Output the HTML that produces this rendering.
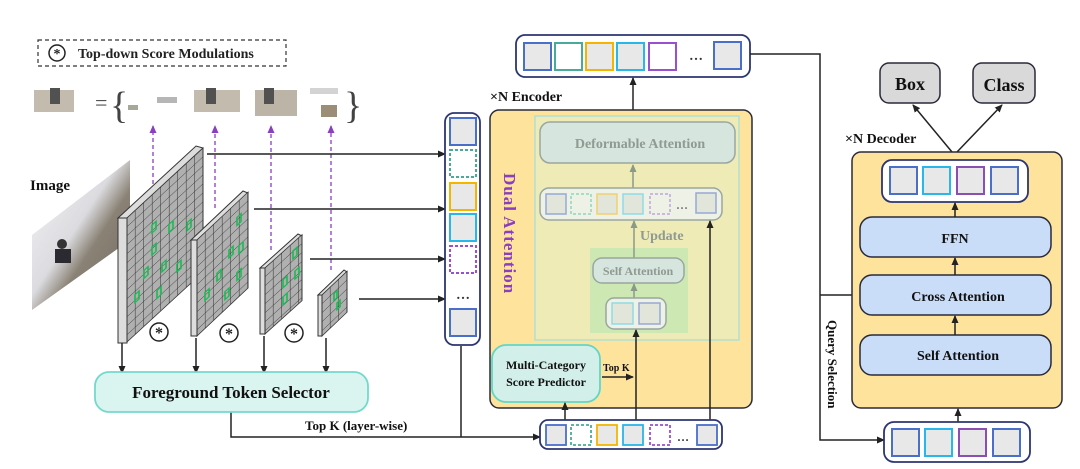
<!DOCTYPE html>
<html><head><meta charset="utf-8"><style>
html,body{margin:0;padding:0;background:#fff;}
svg{display:block;font-family:"Liberation Serif",serif;font-weight:bold;}
</style></head><body>
<svg width="1080" height="469" viewBox="0 0 1080 469" xmlns="http://www.w3.org/2000/svg">
<defs>
<marker id="ah" markerWidth="8" markerHeight="8" refX="7" refY="4" orient="auto" markerUnits="userSpaceOnUse"><path d="M0,0.5 L8,4 L0,7.5 Z" fill="#222"/></marker>
<marker id="ahg" markerWidth="8" markerHeight="8" refX="7" refY="4" orient="auto" markerUnits="userSpaceOnUse"><path d="M0,0.5 L8,4 L0,7.5 Z" fill="#8a9a8a"/></marker>
<marker id="ahp" markerWidth="8" markerHeight="8" refX="7" refY="4" orient="auto" markerUnits="userSpaceOnUse"><path d="M0,0.5 L8,4 L0,7.5 Z" fill="#8a3fc0"/></marker>
<pattern id="grid" width="8.5" height="9" patternUnits="userSpaceOnUse"><rect width="8.5" height="9" fill="#b0b0b0"/><path d="M8.5,0 V9 M0,9 H8.5" stroke="#333" stroke-width="1" fill="none"/></pattern>
<linearGradient id="photo" x1="0" y1="0" x2="1" y2="1"><stop offset="0" stop-color="#f4f4f6"/><stop offset="0.45" stop-color="#dcdce0"/><stop offset="0.6" stop-color="#8a8275"/><stop offset="1" stop-color="#6f6a60"/></linearGradient>
</defs>

<!-- legend -->
<rect x="38" y="40" width="248" height="26" fill="none" stroke="#333" stroke-width="1.2" stroke-dasharray="4,3"/>
<circle cx="57" cy="53" r="8" fill="#fff" stroke="#222" stroke-width="1.5"/>
<text x="57" y="58" font-size="14" text-anchor="middle" fill="#222">*</text>
<text x="78" y="58" font-size="14" fill="#222">Top-down Score Modulations</text>

<!-- thumbnails -->
<g opacity="0.85">
<rect x="34" y="90" width="40" height="22" fill="#b8b0a0"/><rect x="50" y="88" width="10" height="16" fill="#333"/>
<text x="95" y="110" font-size="22" font-weight="normal" fill="#333">=</text>
<text x="110" y="118" font-size="38" font-weight="normal" fill="#222">{</text>
<rect x="128" y="105" width="10" height="5" fill="#998"/><rect x="157" y="97" width="20" height="6" fill="#aaa"/>
<rect x="194" y="90" width="46" height="22" fill="#b8b0a0"/><rect x="206" y="88" width="10" height="16" fill="#333"/>
<rect x="255" y="90" width="42" height="26" fill="#b0a898"/><rect x="264" y="88" width="10" height="16" fill="#333"/>
<rect x="310" y="88" width="28" height="6" fill="#ccc"/><rect x="321" y="105" width="16" height="12" fill="#8a7a60"/>
<text x="344" y="118" font-size="38" font-weight="normal" fill="#222">}</text>
</g>

<!-- purple dashed arrows -->
<g stroke="#8a3fc0" stroke-width="1.3" stroke-dasharray="4,3" marker-end="url(#ahp)">
<line x1="153" y1="205" x2="153" y2="126"/><line x1="215" y1="208" x2="215" y2="126"/>
<line x1="271" y1="250" x2="271" y2="126"/><line x1="331" y1="270" x2="331" y2="126"/>
</g>

<!-- image -->
<text x="30" y="190" font-size="15" fill="#111">Image</text>
<polygon points="32,235 130,160 130,240 32,310" fill="url(#photo)"/>
<circle cx="62" cy="244" r="5" fill="#333"/><rect x="55" y="249" width="16" height="14" fill="#2a2a30"/>

<!-- feature maps -->
<g stroke="#333" stroke-width="1">
<polygon points="118,218 127,218 203,148 196,146" fill="#ddd"/>
<g transform="translate(127,218) matrix(1,-0.92,0,1,0,0)"><rect width="76" height="124" fill="url(#grid)" stroke="#333"/>
<g fill="none" stroke="#1db954" stroke-width="1.6"><rect x="25" y="30" width="4" height="8"/><rect x="42" y="45" width="4" height="8"/><rect x="25" y="52" width="4" height="8"/><rect x="17" y="68" width="4" height="8"/><rect x="8" y="84" width="4" height="8"/><rect x="35" y="78" width="4" height="8"/><rect x="60" y="60" width="4" height="8"/><rect x="50" y="92" width="4" height="8"/><rect x="30" y="100" width="4" height="8"/></g></g>
<rect x="118" y="218" width="9" height="125" fill="#ddd"/>

<polygon points="191,240 197,240 248,193 243,191" fill="#ddd"/>
<g transform="translate(197,240) matrix(1,-0.94,0,1,0,0)"><rect width="51" height="96" fill="url(#grid)" stroke="#333"/>
<g fill="none" stroke="#1db954" stroke-width="1.6"><rect x="40" y="15" width="4" height="8"/><rect x="32" y="40" width="4" height="8"/><rect x="42" y="45" width="4" height="8"/><rect x="20" y="52" width="4" height="8"/><rect x="8" y="60" width="4" height="8"/><rect x="40" y="70" width="4" height="8"/><rect x="28" y="78" width="4" height="8"/></g></g>
<rect x="191" y="240" width="6" height="96" fill="#ddd"/>

<polygon points="260,268 265,268 302,236 298,234" fill="#ddd"/>
<g transform="translate(265,268) matrix(1,-0.9,0,1,0,0)"><rect width="37" height="66" fill="url(#grid)" stroke="#333"/>
<g fill="none" stroke="#1db954" stroke-width="1.6"><rect x="28" y="8" width="4" height="8"/><rect x="18" y="28" width="4" height="8"/><rect x="30" y="30" width="4" height="8"/><rect x="18" y="45" width="4" height="8"/></g></g>
<rect x="260" y="268" width="5" height="66" fill="#ddd"/>

<polygon points="318,295 322,295 347,272 344,270" fill="#ddd"/>
<g transform="translate(322,295) matrix(1,-0.95,0,1,0,0)"><rect width="25" height="41" fill="url(#grid)" stroke="#333"/>
<g fill="none" stroke="#1db954" stroke-width="1.6"><rect x="12" y="10" width="3" height="7"/><rect x="15" y="22" width="3" height="7"/></g></g>
<rect x="318" y="295" width="4" height="41" fill="#ddd"/>
</g>
<g font-size="16" text-anchor="middle" fill="#222">
<circle cx="159" cy="332" r="9" fill="#fff" stroke="#222" stroke-width="1.5"/><text x="159" y="338">*</text>
<circle cx="229" cy="333" r="9" fill="#fff" stroke="#222" stroke-width="1.5"/><text x="229" y="339">*</text>
<circle cx="294" cy="333" r="9" fill="#fff" stroke="#222" stroke-width="1.5"/><text x="294" y="339">*</text>
</g>

<!-- arrows to column -->
<g stroke="#222" stroke-width="1.5" fill="none" marker-end="url(#ah)">
<line x1="207" y1="154" x2="445" y2="154"/><line x1="254" y1="209" x2="445" y2="209"/>
<line x1="310" y1="259" x2="445" y2="259"/><line x1="359" y1="299" x2="445" y2="299"/>
<line x1="122" y1="343" x2="122" y2="373"/><line x1="196" y1="338" x2="196" y2="373"/>
<line x1="264" y1="336" x2="264" y2="373"/><line x1="326" y1="338" x2="326" y2="373"/>
<path d="M231,412 V437 H540"/>
</g>
<line x1="461" y1="346" x2="461" y2="437" stroke="#222" stroke-width="1.5"/>

<!-- foreground token selector -->
<rect x="95" y="372" width="273" height="40" rx="14" fill="#daf4f0" stroke="#73d9cc" stroke-width="1.8"/>
<text x="231" y="398" font-size="17" text-anchor="middle" fill="#111">Foreground Token Selector</text>
<text x="305" y="430" font-size="13" fill="#111">Top K (layer-wise)</text>

<!-- column tokens -->
<rect x="445" y="113" width="35" height="232" rx="9" fill="#fff" stroke="#2c3570" stroke-width="1.8"/>
<g stroke-width="2">
<rect x="450" y="118" width="26" height="27" fill="#e8e8e8" stroke="#4a6fc9"/>
<rect x="450" y="150" width="26" height="27" fill="#fff" stroke="#4aaa99" stroke-dasharray="3,2"/>
<rect x="450" y="183" width="26" height="27" fill="#e8e8e8" stroke="#f4b400"/>
<rect x="450" y="214" width="26" height="27" fill="#e8e8e8" stroke="#29b6e8"/>
<rect x="450" y="246" width="26" height="27" fill="#fff" stroke="#9a4fd0" stroke-dasharray="3,2"/>
<rect x="450" y="309" width="26" height="27" fill="#e8e8e8" stroke="#4a6fc9"/>
</g>
<text x="463" y="299" font-size="14" text-anchor="middle" fill="#333">…</text>

<!-- encoder output bar -->
<rect x="516" y="35" width="234" height="42" rx="9" fill="#fff" stroke="#2c3570" stroke-width="1.8"/>
<g stroke-width="2">
<rect x="524" y="43" width="27" height="27" fill="#e8e8e8" stroke="#4a6fc9"/>
<rect x="555" y="43" width="27" height="27" fill="#fff" stroke="#4aaa99"/>
<rect x="586" y="43" width="27" height="27" fill="#e8e8e8" stroke="#f4b400"/>
<rect x="617" y="43" width="27" height="27" fill="#e8e8e8" stroke="#29b6e8"/>
<rect x="649" y="43" width="27" height="27" fill="#fff" stroke="#9a4fd0"/>
<rect x="714" y="42" width="27" height="27" fill="#e8e8e8" stroke="#4a6fc9"/>
</g>
<text x="696" y="60" font-size="14" text-anchor="middle" fill="#333">…</text>
<path d="M750,54 H820 V440 H884" stroke="#222" stroke-width="1.5" fill="none" marker-end="url(#ah)"/>
<line x1="820" y1="295" x2="860" y2="295" stroke="#222" stroke-width="1.5" marker-end="url(#ah)"/>

<!-- encoder -->
<text x="490" y="101" font-size="14" fill="#111">×N Encoder</text>
<line x1="633" y1="110" x2="633" y2="78" stroke="#222" stroke-width="1.5" marker-end="url(#ah)"/>
<rect x="490" y="110" width="262" height="298" rx="9" fill="#fde39c" stroke="#2a2a3a" stroke-width="1.5"/>
<rect x="535" y="116" width="204" height="224" fill="#eeebb6" stroke="#9ee0e0" stroke-width="1.2"/>
<rect x="540" y="122" width="195" height="41" rx="10" fill="#d6e5de" stroke="#9aa6a0" stroke-width="1.5"/>
<text x="640" y="148" font-size="14" text-anchor="middle" fill="#8f9a92">Deformable Attention</text>
<line x1="633" y1="188" x2="633" y2="165" stroke="#8a9a8a" stroke-width="1.5" marker-end="url(#ahg)"/>
<rect x="540" y="188" width="182" height="32" rx="9" fill="#eef2e6" stroke="#9aa6a0" stroke-width="1.5"/>
<g stroke-width="1.5">
<rect x="546" y="194" width="20" height="20" fill="#e2e6da" stroke="#97a8d6"/>
<rect x="571" y="194" width="20" height="20" fill="none" stroke="#8fd6bb" stroke-dasharray="3,2"/>
<rect x="597" y="194" width="20" height="20" fill="#e2e6da" stroke="#f0d070"/>
<rect x="623" y="194" width="20" height="20" fill="#e2e6da" stroke="#8fdbe6"/>
<rect x="650" y="194" width="20" height="20" fill="none" stroke="#bda6d8" stroke-dasharray="3,2"/>
<rect x="696" y="193" width="20" height="20" fill="#e2e6da" stroke="#97a8d6"/>
</g>
<text x="682" y="209" font-size="12" text-anchor="middle" fill="#777">…</text>
<rect x="590" y="248" width="98" height="85" fill="#cde8b2"/>
<line x1="634" y1="258" x2="634" y2="221" stroke="#8a9a8a" stroke-width="1.5" marker-end="url(#ahg)"/>
<text x="640" y="240" font-size="14" fill="#8f9a92">Update</text>
<rect x="593" y="258" width="91" height="25" rx="9" fill="#d6e5de" stroke="#9aa6a0" stroke-width="1.5"/>
<text x="638" y="275" font-size="12" text-anchor="middle" fill="#8f9a92">Self Attention</text>
<line x1="634" y1="298" x2="634" y2="284" stroke="#8a9a8a" stroke-width="1.5" marker-end="url(#ahg)"/>
<rect x="606" y="298" width="60" height="31" rx="8" fill="#eef2e6" stroke="#9aa6a0" stroke-width="1.5"/>
<rect x="612" y="303" width="21" height="21" fill="#e2e6da" stroke="#8fdbe6" stroke-width="1.5"/>
<rect x="639" y="303" width="21" height="21" fill="#e2e6da" stroke="#97a8d6" stroke-width="1.5"/>
<text transform="translate(504,173) rotate(90)" font-size="17" fill="#8a3fc0" letter-spacing="1">Dual  Attention</text>
<rect x="492" y="345" width="108" height="57" rx="14" fill="#d2efea" stroke="#62d6c6" stroke-width="1.8"/>
<text x="546" y="369" font-size="12" text-anchor="middle" fill="#111">Multi-Category</text>
<text x="546" y="386" font-size="12" text-anchor="middle" fill="#111">Score Predictor</text>
<text x="603" y="371" font-size="10" fill="#111">Top K</text>
<line x1="602" y1="377" x2="633" y2="377" stroke="#222" stroke-width="1.5" marker-end="url(#ah)"/>
<g stroke="#222" stroke-width="1.5" marker-end="url(#ah)">
<line x1="565" y1="420" x2="565" y2="403"/>
<line x1="636" y1="420" x2="636" y2="330"/>
<line x1="710" y1="420" x2="710" y2="221"/>
</g>

<!-- bottom bar -->
<rect x="540" y="420" width="182" height="29" rx="8" fill="#fff" stroke="#2c3570" stroke-width="1.8"/>
<g stroke-width="1.8">
<rect x="546" y="425" width="20" height="20" fill="#e8e8e8" stroke="#4a6fc9"/>
<rect x="571" y="425" width="20" height="20" fill="#fff" stroke="#4aaa99" stroke-dasharray="3,2"/>
<rect x="597" y="425" width="20" height="20" fill="#e8e8e8" stroke="#f4b400"/>
<rect x="623" y="425" width="20" height="20" fill="#e8e8e8" stroke="#29b6e8"/>
<rect x="650" y="425" width="20" height="20" fill="#fff" stroke="#9a4fd0" stroke-dasharray="3,2"/>
<rect x="697" y="425" width="20" height="20" fill="#e8e8e8" stroke="#4a6fc9"/>
</g>
<text x="683" y="441" font-size="12" text-anchor="middle" fill="#333">…</text>

<!-- decoder -->
<rect x="880" y="63" width="60" height="40" rx="9" fill="#d9d9d9" stroke="#2a2a3a" stroke-width="1.5"/>
<text x="910" y="90" font-size="18" text-anchor="middle" fill="#111">Box</text>
<rect x="973" y="63" width="62" height="40" rx="9" fill="#d9d9d9" stroke="#2a2a3a" stroke-width="1.5"/>
<text x="1004" y="91" font-size="18" text-anchor="middle" fill="#111">Class</text>
<g stroke="#222" stroke-width="1.5" marker-end="url(#ah)">
<line x1="952" y1="152" x2="913" y2="105"/><line x1="957" y1="152" x2="1002" y2="105"/>
</g>
<text x="845" y="143" font-size="14" fill="#111">×N Decoder</text>
<rect x="852" y="152" width="210" height="256" rx="9" fill="#fde39c" stroke="#2a2a3a" stroke-width="1.5"/>
<rect x="882" y="160" width="146" height="42" rx="10" fill="#fff" stroke="#2c3570" stroke-width="1.8"/>
<g stroke-width="2">
<rect x="890" y="167" width="27" height="27" fill="#e8e8e8" stroke="#4a6fc9"/>
<rect x="923" y="167" width="27" height="27" fill="#e8e8e8" stroke="#29b6e8"/>
<rect x="957" y="167" width="27" height="27" fill="#e8e8e8" stroke="#8a4fb0"/>
<rect x="991" y="167" width="27" height="27" fill="#e8e8e8" stroke="#4a6fc9"/>
</g>
<rect x="860" y="217" width="191" height="40" rx="12" fill="#c9dcf8" stroke="#2a2a3a" stroke-width="1.5"/>
<text x="955" y="243" font-size="14" text-anchor="middle" fill="#111">FFN</text>
<rect x="860" y="275" width="191" height="40" rx="12" fill="#c9dcf8" stroke="#2a2a3a" stroke-width="1.5"/>
<text x="958" y="301" font-size="14" text-anchor="middle" fill="#111">Cross Attention</text>
<rect x="860" y="335" width="191" height="40" rx="12" fill="#c9dcf8" stroke="#2a2a3a" stroke-width="1.5"/>
<text x="958" y="360" font-size="14" text-anchor="middle" fill="#111">Self Attention</text>
<g stroke="#222" stroke-width="1.5" marker-end="url(#ah)">
<line x1="955" y1="217" x2="955" y2="203"/><line x1="955" y1="275" x2="955" y2="258"/>
<line x1="955" y1="335" x2="955" y2="316"/><line x1="958" y1="422" x2="958" y2="409"/>
</g>
<rect x="884" y="422" width="146" height="40" rx="10" fill="#fff" stroke="#2c3570" stroke-width="1.8"/>
<g stroke-width="2">
<rect x="892" y="429" width="27" height="27" fill="#e8e8e8" stroke="#4a6fc9"/>
<rect x="925" y="429" width="27" height="27" fill="#e8e8e8" stroke="#29b6e8"/>
<rect x="959" y="429" width="27" height="27" fill="#e8e8e8" stroke="#8a4fb0"/>
<rect x="993" y="429" width="27" height="27" fill="#e8e8e8" stroke="#4a6fc9"/>
</g>
<text transform="translate(828,320) rotate(90)" font-size="13" fill="#111">Query Selection</text>
</svg>
</body></html>
